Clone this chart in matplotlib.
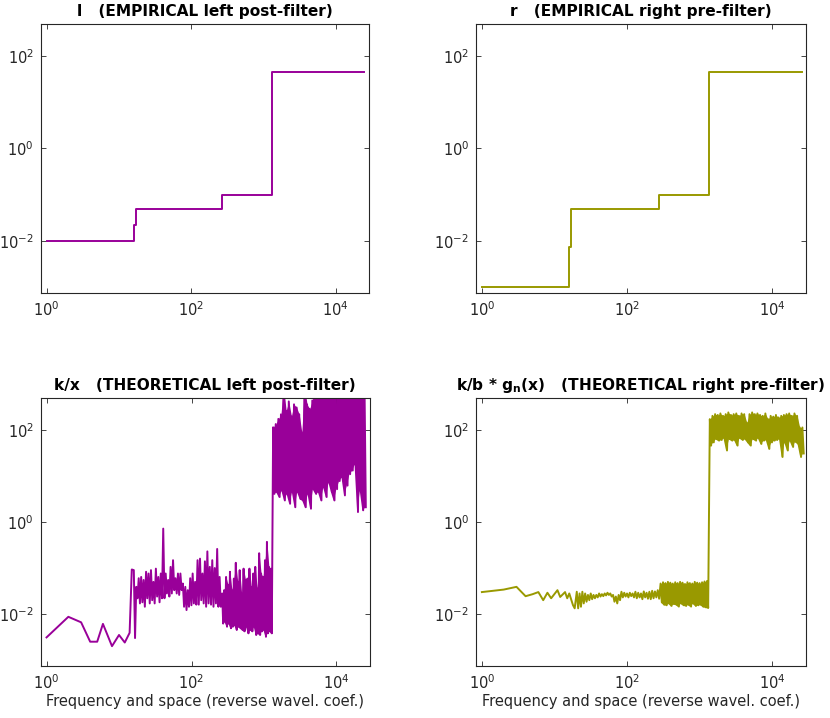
import numpy as np
import matplotlib
matplotlib.use("Agg")
import matplotlib.pyplot as plt

purple = "#990099"
olive = "#999900"
axcol = "#262626"

titles = ["l   (EMPIRICAL left post-filter)",
          "r   (EMPIRICAL right pre-filter)",
          "k/x   (THEORETICAL left post-filter)",
          r"k/b * g$_\mathbf{n}$(x)   (THEORETICAL right pre-filter)"]
xlabel = "Frequency and space (reverse wavel. coef.)"

# top row: step functions (edges + levels)
l_edges = [1, 16, 17, 270, 1295, 24600]
l_levels = [0.0097, 0.022, 0.0485, 0.098, 45.7]
r_edges = [1, 16, 17, 280, 1355, 25900]
r_levels = [0.001, 0.0072, 0.0485, 0.098, 45.7]

# bottom left, k/x : sparse start, then dense bands (hi/lo envelope pairs)
kx_a_x = [1, 2, 3, 4, 5, 6, 8, 10, 12, 14, 15]
kx_a_y = [0.0031, 0.0087, 0.0066, 0.0025, 0.0025, 0.0061, 0.0020, 0.0035, 0.0024, 0.0039, 0.093]
kx_b_range = (16, 254)
kx_b_hi = [0.090, 0.039, 0.060, 0.064, 0.055, 0.083, 0.076, 0.090, 0.050, 0.097, 0.064, 0.076,
           0.72, 0.076, 0.055, 0.106, 0.148, 0.060, 0.076, 0.076, 0.046, 0.039, 0.033, 0.060,
           0.076, 0.050, 0.148, 0.16, 0.076, 0.14, 0.23, 0.106, 0.148, 0.10, 0.26, 0.064]
kx_b_lo = [0.0030, 0.022, 0.017, 0.018, 0.0144, 0.022, 0.017, 0.020, 0.017, 0.024, 0.018, 0.022,
           0.022, 0.028, 0.024, 0.028, 0.033, 0.028, 0.026, 0.033, 0.0144, 0.0122, 0.0144, 0.0155,
           0.017, 0.016, 0.016, 0.020, 0.017, 0.0144, 0.017, 0.016, 0.0144, 0.017, 0.0144, 0.0144]
kx_c_range = (265, 1282)
kx_c_hi = [0.028, 0.033, 0.064, 0.043, 0.083, 0.033, 0.059, 0.13, 0.050, 0.090, 0.028, 0.097,
           0.055, 0.059, 0.097, 0.039, 0.076, 0.106, 0.036, 0.21, 0.076, 0.064, 0.148, 0.37,
           0.106, 0.097]
kx_c_lo = [0.0062, 0.0068, 0.0053, 0.0062, 0.0049, 0.0053, 0.0057, 0.0045, 0.0053, 0.0049,
           0.0045, 0.0042, 0.0053, 0.0038, 0.0045, 0.0042, 0.0053, 0.0035, 0.0038, 0.0035,
           0.0042, 0.0045, 0.0032, 0.0038, 0.0042, 0.0038]
kx_d_range = (1337, 25400)
kx_d_hi = [115, 135, 175, 220, 900, 263, 420, 200, 363, 310, 220, 89, 900, 363, 290, 440,
           900, 900, 900, 900, 900, 900, 900, 900, 900, 900, 900, 900, 900, 900, 900, 900,
           900, 900, 900, 900]
kx_d_lo = [4.1, 4.5, 3.5, 4.85, 2.95, 4.1, 2.5, 4.5, 2.1, 4.5, 3.2, 2.95, 2.1, 4.1, 1.95, 5.2,
           4.1, 4.5, 2.95, 5.7, 3.5, 7.3, 4.5, 2.95, 5.2, 7.8, 9.4, 3.8, 6.2, 11, 13.2, 18,
           1.65, 4.85, 1.8, 2.1]

# bottom right, k/b * g_n(x)
kb_a_x = [1, 2, 3, 4, 5, 6, 7, 8, 9, 11, 12, 14, 15, 16, 18, 19]
kb_a_y = [0.030, 0.034, 0.039, 0.0244, 0.027, 0.030, 0.020, 0.029, 0.022, 0.033, 0.0235,
          0.030, 0.022, 0.028, 0.0156, 0.0133]
kb_b_range = (20.3, 277)
kb_b_hi = [0.0305, 0.028, 0.0305, 0.028, 0.026, 0.028, 0.026, 0.026, 0.028, 0.027, 0.028, 0.029,
           0.028, 0.026, 0.024, 0.026, 0.0305, 0.029, 0.028, 0.029, 0.028, 0.0305, 0.029, 0.028,
           0.031, 0.029, 0.0305, 0.032, 0.031, 0.033]
kb_b_lo = [0.0133, 0.0144, 0.017, 0.0185, 0.020, 0.021, 0.022, 0.023, 0.024, 0.0245, 0.0254, 0.026,
           0.024, 0.0185, 0.017, 0.020, 0.023, 0.024, 0.023, 0.0245, 0.023, 0.022, 0.023, 0.021,
           0.023, 0.0215, 0.021, 0.022, 0.023, 0.0215]
kb_c_range = (290, 1312)
kb_c_hi = [0.046, 0.049, 0.047, 0.050, 0.048, 0.046, 0.049, 0.047, 0.050, 0.048, 0.045, 0.049,
           0.047, 0.046, 0.050, 0.048, 0.047, 0.049, 0.051, 0.052]
kb_c_lo = [0.018, 0.016, 0.0155, 0.017, 0.015, 0.0165, 0.016, 0.0145, 0.017, 0.0155, 0.015, 0.016,
           0.0145, 0.017, 0.015, 0.0155, 0.016, 0.0145, 0.014, 0.0135]
kb_d_range = (1383, 27200)
kb_d_hi = [173, 204, 222, 213, 230, 204, 222, 242, 213, 222, 230, 204, 230, 222, 145, 222, 242,
           222, 230, 213, 204, 230, 173, 204, 196, 213, 188, 204, 213, 222, 230, 204, 230, 204,
           114, 114]
kb_d_lo = [46, 54, 64, 59, 61, 67, 36, 64, 59, 61, 46, 67, 61, 64, 54, 46, 64, 59, 67, 50, 59, 61,
           39, 54, 59, 61, 64, 26, 54, 36, 59, 43, 56, 50, 26, 31]


def band(rng, hi, lo):
    # alternate between the read upper and lower envelope to draw a dense band
    n = len(hi)
    x = np.geomspace(rng[0], rng[1], 2 * n)
    y = np.empty(2 * n)
    y[0::2] = hi
    y[1::2] = lo
    return x, y


def draw_series(ax, ax_, ay, segs, color):
    xs = [np.array(ax_, float)]
    ys = [np.array(ay, float)]
    for rng, hi, lo, solid in segs:
        x, y = band(rng, hi, lo)
        xs.append(x)
        ys.append(y)
        if solid:
            ax.fill_between(x[0::2], hi, lo, color=color, lw=0)
    ax.plot(np.concatenate(xs), np.concatenate(ys), color=color, lw=1.4)


fig = plt.figure(figsize=(8.3, 7.18), dpi=100)
rects = [[0.049, 0.592, 0.3956, 0.3747],
         [0.5735, 0.592, 0.397, 0.3747],
         [0.049, 0.0724, 0.3965, 0.3728],
         [0.5735, 0.0724, 0.397, 0.3728]]
axes = [fig.add_axes(r) for r in rects]

axes[0].step(l_edges, l_levels + [l_levels[-1]], where="post", color=purple, lw=1.4)
axes[1].step(r_edges, r_levels + [r_levels[-1]], where="post", color=olive, lw=1.4)

draw_series(axes[2], kx_a_x, kx_a_y, [(kx_b_range, kx_b_hi, kx_b_lo, False),
                                      (kx_c_range, kx_c_hi, kx_c_lo, True),
                                      (kx_d_range, kx_d_hi, kx_d_lo, True)], purple)
draw_series(axes[3], kb_a_x, kb_a_y, [(kb_b_range, kb_b_hi, kb_b_lo, False),
                                      (kb_c_range, kb_c_hi, kb_c_lo, True),
                                      (kb_d_range, kb_d_hi, kb_d_lo, True)], olive)

for i, ax in enumerate(axes):
    ax.set_xscale("log")
    ax.set_yscale("log")
    ax.set_xlim(0.83, 28800)
    ax.set_ylim(7.4e-4, 490)
    ax.set_xticks([1, 1e2, 1e4])
    ax.set_yticks([1e-2, 1, 1e2])
    ax.minorticks_off()
    ax.tick_params(direction="in", top=True, right=True, length=3.5, width=0.6,
                   colors=axcol, labelsize=10.5, pad=5)
    for s in ax.spines.values():
        s.set_color(axcol)
        s.set_linewidth(0.8)
    ax.set_title(titles[i], fontsize=11.1, fontweight="bold", pad=6)
    if i >= 2:
        ax.set_xlabel(xlabel, fontsize=10.5, color=axcol, labelpad=2)

fig.savefig("out.png", dpi=100)
